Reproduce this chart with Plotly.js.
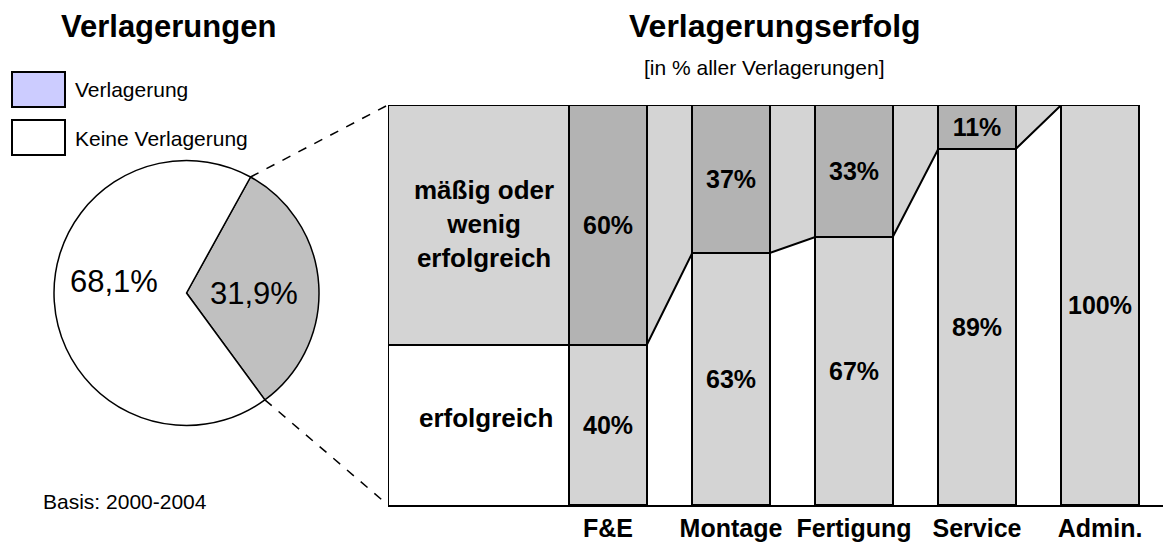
<!DOCTYPE html>
<html><head><meta charset="utf-8">
<script src="https://cdn.plot.ly/plotly-3.0.1.min.js"></script>
<style>html,body{margin:0;padding:0;background:#fff}#chart{width:1163px;height:542px}</style>
</head><body><div id="chart"></div>
<script>
// ---- data ----
const pieLabels = ['Verlagerung', 'Keine Verlagerung'];
const pieValues = [31.9, 68.1];
const categories = ['F&E', 'Montage', 'Fertigung', 'Service', 'Admin.'];
const successful = [40, 63, 67, 89, 100];
const lessSuccessful = [60, 37, 33, 11, 0];
const rowLabels = ['erfolgreich', 'mäßig oder<br>wenig<br>erfolgreich'];

// ---- geometry / style ----
const W = 1163, H = 542;
const FONT = 'Liberation Sans, Arial, sans-serif';
const px = x => x / W, py = y => 1 - y / H;
const xLeftPx = 388, plotTop = 105, plotBottom = 505, catStep = 123, firstCatPx = 608;
const xMin = (xLeftPx - firstCatPx) / catStep;
const xMax = (W - firstCatPx) / catStep;
const barW = 0.63;
const idx = categories.map((c, i) => i);
const n = categories.length;
const LIGHT = '#d4d4d4', DARK = '#b3b3b3';

// boundary between "erfolgreich" and "mäßig" regions
const bx = [xMin], by = [successful[0]];
idx.forEach(i => {
  bx.push(i - barW / 2); by.push(successful[i]);
  if (i < n - 1) { bx.push(i + barW / 2); by.push(successful[i]); }
});
const topRight = n - 1 - barW / 2;
let fillPath = `M ${xMin},100 L ${topRight},100`;
for (let k = bx.length - 1; k >= 0; k--) fillPath += ` L ${bx[k]},${by[k]}`;
fillPath += ' Z';

// pie geometry (pixels)
const pieCx = 186.5, pieCy = 293, pieR = 132.5;
const pieRotation = 28.9;
const total = pieValues.reduce((a, b) => a + b, 0);
const a1 = pieRotation * Math.PI / 180;
const a2 = (pieRotation + 360 * pieValues[0] / total) * Math.PI / 180;
const edge = a => [pieCx + pieR * Math.sin(a), pieCy - pieR * Math.cos(a)];
const e1 = edge(a1), e2 = edge(a2);
const pieText = pieValues.map(v => v.toFixed(1).replace('.', ',') + '%');
const pieTextPos = [[254, 293], [114, 281]];

const traces = [
  {
    type: 'pie', labels: pieLabels, values: pieValues, sort: false,
    direction: 'clockwise', rotation: pieRotation,
    domain: {x: [px(pieCx - pieR), px(pieCx + pieR)], y: [py(pieCy + pieR), py(pieCy - pieR)]},
    marker: {colors: ['#c0c0c0', '#ffffff'], line: {color: '#000', width: 1.5}},
    textinfo: 'none', textposition: 'none',
    hoverinfo: 'none', showlegend: false
  },
  {
    type: 'bar', x: idx, y: successful, width: barW, name: rowLabels[0],
    marker: {color: LIGHT, line: {color: '#000', width: 2}},
    text: successful.map(v => v + '%'), textposition: 'inside', insidetextanchor: 'middle',
    textangle: 0, constraintext: 'none', cliponaxis: false,
    textfont: {family: FONT, size: 25, color: '#000', weight: 'bold'},
    hoverinfo: 'none'
  },
  {
    type: 'bar', x: idx, y: lessSuccessful, width: barW, name: 'mäßig oder wenig erfolgreich',
    marker: {color: DARK, line: {color: '#000', width: 2}},
    text: lessSuccessful.map(v => v > 0 ? v + '%' : ''), textposition: 'inside', insidetextanchor: 'middle',
    textangle: 0, constraintext: 'none', cliponaxis: false,
    textfont: {family: FONT, size: 25, color: '#000', weight: 'bold'},
    hoverinfo: 'none'
  },
  {
    type: 'scatter', mode: 'lines', x: bx, y: by, cliponaxis: false,
    line: {color: '#000', width: 2}, hoverinfo: 'none'
  },
  {
    type: 'scatter', mode: 'lines', x: [xMin, xMin, topRight], y: [0, 100, 100], cliponaxis: false,
    line: {color: '#000', width: 2}, hoverinfo: 'none'
  }
];

const ann = (text, x, y, size, bold, xanchor) => ({
  text, x: px(x), y: py(y), xref: 'paper', yref: 'paper', showarrow: false,
  xanchor: xanchor || 'center', yanchor: 'middle', align: 'center',
  font: {family: FONT, size, color: '#000', weight: bold ? 'bold' : 'normal'}
});

const layout = {
  width: W, height: H, autosize: false,
  margin: {l: 0, r: 0, t: 0, b: 0, pad: 0},
  paper_bgcolor: '#fff', plot_bgcolor: 'rgba(0,0,0,0)',
  showlegend: false, barmode: 'stack', bargap: 0,
  font: {family: FONT, color: '#000'},
  xaxis: {
    domain: [px(xLeftPx), 1], range: [xMin, xMax], fixedrange: true,
    tickmode: 'array', tickvals: idx, ticktext: categories, ticks: '',
    tickfont: {family: FONT, size: 25, color: '#000', weight: 'bold'},
    showline: true, linecolor: '#000', linewidth: 2, showgrid: false, zeroline: false
  },
  yaxis: {
    domain: [py(plotBottom), py(plotTop)], range: [0, 100], visible: false, fixedrange: true
  },
  shapes: [
    {type: 'path', xref: 'x', yref: 'y', path: fillPath, fillcolor: LIGHT, line: {width: 0}, layer: 'below'},
    {type: 'line', xref: 'paper', yref: 'paper', x0: px(e1[0]), y0: py(e1[1]), x1: px(xLeftPx), y1: py(plotTop),
     line: {color: '#000', width: 1.5, dash: 'dash'}},
    {type: 'line', xref: 'paper', yref: 'paper', x0: px(e2[0]), y0: py(e2[1]), x1: px(xLeftPx), y1: py(plotBottom),
     line: {color: '#000', width: 1.5, dash: 'dash'}},
    {type: 'rect', xref: 'paper', yref: 'paper', x0: px(12), x1: px(65), y0: py(107), y1: py(72),
     fillcolor: '#ccccff', line: {color: '#000', width: 2}},
    {type: 'rect', xref: 'paper', yref: 'paper', x0: px(12), x1: px(65), y0: py(155), y1: py(120),
     fillcolor: '#ffffff', line: {color: '#000', width: 2}}
  ],
  annotations: [
    ann('Verlagerungen', 168, 27, 31, true),
    ann('Verlagerungserfolg', 775, 26, 32, true),
    ann('[in % aller Verlagerungen]', 765, 68, 21, false),
    ann(pieLabels[0], 73, 90, 21, false, 'left'),
    ann(pieLabels[1], 73, 139, 21, false, 'left'),
    ann(rowLabels[1], 484, 224, 26, true),
    ann(rowLabels[0], 486, 418, 26, true),
    ann('Basis: 2000-2004', 125, 501, 21, false),
    ann(pieText[0], pieTextPos[0][0], pieTextPos[0][1], 31, false),
    ann(pieText[1], pieTextPos[1][0], pieTextPos[1][1], 31, false)
  ]
};

Plotly.newPlot('chart', traces, layout, {displayModeBar: false, staticPlot: true});
</script>
</body></html>
